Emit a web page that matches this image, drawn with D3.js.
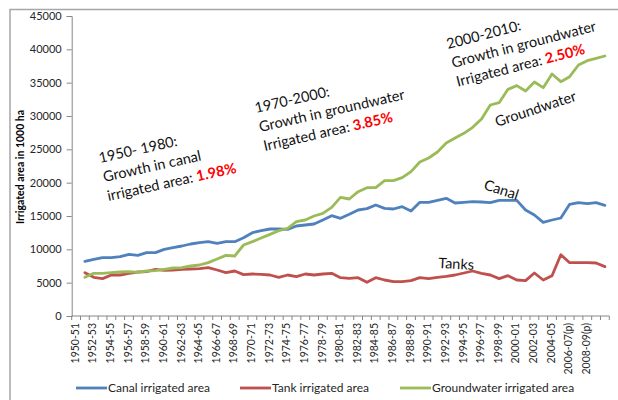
<!DOCTYPE html>
<html>
<head>
<meta charset="utf-8">
<script src="https://cdn.jsdelivr.net/npm/d3@7"></script>
<style>
  body { margin: 0; background: #fff; }
  svg { display: block; }
  text { font-family: Lato, "Open Sans", sans-serif; }
</style>
</head>
<body>
<svg id="chart" width="618" height="400"></svg>
<script>
// categories as they sit on the axis (the last slot carries no label)
const categories = [
  "1950-51", "1951-52", "1952-53", "1953-54", "1954-55", "1955-56", "1956-57", "1957-58", "1958-59", "1959-60",
  "1960-61", "1961-62", "1962-63", "1963-64", "1964-65", "1965-66", "1966-67", "1967-68", "1968-69", "1969-70",
  "1970-71", "1971-72", "1972-73", "1973-74", "1974-75", "1975-76", "1976-77", "1977-78", "1978-79", "1979-80",
  "1980-81", "1981-82", "1982-83", "1983-84", "1984-85", "1985-86", "1986-87", "1987-88", "1988-89", "1989-90",
  "1990-91", "1991-92", "1992-93", "1993-94", "1994-95", "1995-96", "1996-97", "1997-98", "1998-99", "1999-00",
  "2000-01", "2001-02", "2002-03", "2003-04", "2004-05", "2005-06", "2006-07(p)", "2007-08(p)", "2008-09(p)", "2009-10(p)",
  ""
];

// irrigated area, 1000 ha (first slot is empty in the source chart)
const canal = [null,
  8200, 8500, 8750, 8750, 8900, 9250, 9100, 9500, 9500, 10000,
  10250, 10500, 10800, 11000, 11150, 10900, 11150, 11150, 11750, 12500,
  12800, 13050, 13050, 13000, 13500, 13650, 13800, 14400, 15050, 14650,
  15250, 15900, 16100, 16650, 16150, 16050, 16400, 15750, 17050, 17050,
  17350, 17650, 16950, 17050, 17150, 17100, 17000, 17350, 17350, 17350,
  15900, 15150, 14050, 14400, 14700, 16750, 17000, 16850, 17000, 16600];

const tank = [null,
  6500, 5800, 5600, 6150, 6150, 6400, 6600, 6650, 7000, 6850,
  6900, 7000, 7050, 7100, 7250, 6900, 6500, 6750, 6200, 6300,
  6250, 6150, 5800, 6150, 5900, 6300, 6150, 6300, 6400, 5750,
  5650, 5750, 5050, 5750, 5400, 5150, 5150, 5300, 5750, 5600,
  5800, 5950, 6150, 6450, 6750, 6400, 6150, 5600, 6050, 5400,
  5300, 6450, 5400, 6050, 9200, 8000, 8000, 8000, 7950, 7400];

const groundwater = [null,
  5800, 6400, 6400, 6500, 6600, 6650, 6550, 6750, 6800, 7000,
  7200, 7250, 7500, 7650, 8000, 8550, 9100, 9000, 10650, 11150,
  11700, 12250, 12800, 13150, 14150, 14400, 15000, 15400, 16300, 17800,
  17550, 18650, 19250, 19250, 20300, 20300, 20750, 21650, 23100, 23700,
  24600, 25950, 26700, 27400, 28300, 29550, 31650, 32000, 34000, 34550,
  33750, 35100, 34250, 36300, 35150, 35900, 37650, 38300, 38650, 39000];

const yTicks = [0, 5000, 10000, 15000, 20000, 25000, 30000, 35000, 40000, 45000];

const series = [
  { name: "Canal irrigated area", values: canal, color: "#4f81bd" },
  { name: "Tank irrigated area", values: tank, color: "#c0504d" },
  { name: "Groundwater irrigated area", values: groundwater, color: "#9bbb59" }
];

const svg = d3.select("#chart");
const plot = { left: 71.7, right: 609.3, top: 16, bottom: 316 };

// outer chart border (only top and left edges fall inside the crop)
svg.append("path")
  .attr("d", "M10,400 L10,9.5 L618,9.5")
  .attr("fill", "none")
  .attr("stroke", "#a6a6a6")
  .attr("stroke-width", 1.5);

const x = d3.scaleBand()
  .domain(d3.range(categories.length))
  .range([plot.left, plot.right])
  .padding(0);

const y = d3.scaleLinear()
  .domain([0, 45000])
  .range([plot.bottom, plot.top]);

const cx = i => x(i) + x.bandwidth() / 2;

// Y axis
const yAxis = svg.append("g")
  .attr("transform", `translate(${plot.left},0)`)
  .call(d3.axisLeft(y).tickValues(yTicks).tickSize(5).tickPadding(5).tickFormat(d3.format("d")));
yAxis.select(".domain").attr("stroke", "#868686");
yAxis.selectAll(".tick line").attr("stroke", "#868686");
yAxis.selectAll("text")
  .style("font-size", "11px")
  .attr("fill", "#262626");

svg.append("text")
  .attr("transform", "translate(20,167) rotate(-90)")
  .attr("text-anchor", "middle")
  .attr("dy", "0.35em")
  .style("font-size", "10.5px")
  .style("font-weight", "bold")
  .attr("fill", "#000")
  .text("Irrigated area in 1000 ha");

// X axis: labels every second category, tick marks between categories
const labelIdx = d3.range(categories.length).filter(i => i % 2 === 0 && categories[i] !== "");
const xAxis = svg.append("g")
  .attr("transform", `translate(0,${plot.bottom})`)
  .call(d3.axisBottom(x).tickValues(labelIdx).tickSize(0).tickFormat(i => categories[i]));
xAxis.select(".domain").remove();
xAxis.selectAll("text")
  .attr("transform", "rotate(-90)")
  .attr("text-anchor", "end")
  .attr("x", -7)
  .attr("y", -1)
  .attr("dy", "0.35em")
  .style("font-size", "10.5px")
  .attr("fill", "#262626");

svg.append("line")
  .attr("x1", plot.left).attr("x2", plot.right)
  .attr("y1", plot.bottom).attr("y2", plot.bottom)
  .attr("stroke", "#868686");

const tickXs = d3.range(categories.length).map(i => x(i)).concat([plot.right]);
svg.append("g").selectAll("line")
  .data(tickXs)
  .enter()
  .append("line")
  .attr("x1", d => d).attr("x2", d => d)
  .attr("y1", plot.bottom).attr("y2", plot.bottom + 4)
  .attr("stroke", "#868686");

// lines
const line = d3.line()
  .defined(d => d != null)
  .x((d, i) => cx(i))
  .y(d => y(d));

svg.append("g").selectAll("path")
  .data(series)
  .enter()
  .append("path")
  .attr("d", d => line(d.values))
  .attr("fill", "none")
  .attr("stroke", d => d.color)
  .attr("stroke-width", 2.8)
  .attr("stroke-linejoin", "round")
  .attr("stroke-linecap", "round");

// annotations
function note(xp, yp, angle, lines) {
  const g = svg.append("g")
    .attr("transform", `translate(${xp},${yp}) rotate(${angle})`);
  lines.forEach((parts, k) => {
    const t = g.append("text")
      .attr("x", 0)
      .attr("y", k * 19.5)
      .style("font-size", "14.5px")
      .attr("fill", "#111");
    parts.forEach(p => {
      const s = t.append("tspan").text(p.t);
      if (p.red) s.attr("fill", "#ff0000").style("font-weight", "bold");
    });
  });
}

note(100, 163, -12.5, [
  [{ t: "1950- 1980:" }],
  [{ t: "Growth in canal" }],
  [{ t: "irrigated area: " }, { t: "1.98%", red: true }]
]);
note(256, 113, -12.8, [
  [{ t: "1970-2000:" }],
  [{ t: "Growth in groundwater" }],
  [{ t: "Irrigated area: " }, { t: "3.85%", red: true }]
]);
note(448, 49, -14.5, [
  [{ t: "2000-2010:" }],
  [{ t: "Growth in groundwater" }],
  [{ t: "Irrigated area: " }, { t: "2.50%", red: true }]
]);
note(497, 127, -18.4, [[{ t: "Groundwater" }]]);
note(483, 189, 18, [[{ t: "Canal" }]]);
note(438, 268, 3, [[{ t: "Tanks" }]]);

// legend
const legendPos = [76, 240, 400];
const legend = svg.append("g");
series.forEach((s, k) => {
  const lx = legendPos[k];
  legend.append("line")
    .attr("x1", lx).attr("x2", lx + 31)
    .attr("y1", 388).attr("y2", 388)
    .attr("stroke", s.color)
    .attr("stroke-width", 2.8);
  legend.append("text")
    .attr("x", lx + 32)
    .attr("y", 388)
    .attr("dy", "0.35em")
    .style("font-size", "12px")
    .attr("fill", "#262626")
    .text(s.name);
});
</script>
</body>
</html>
